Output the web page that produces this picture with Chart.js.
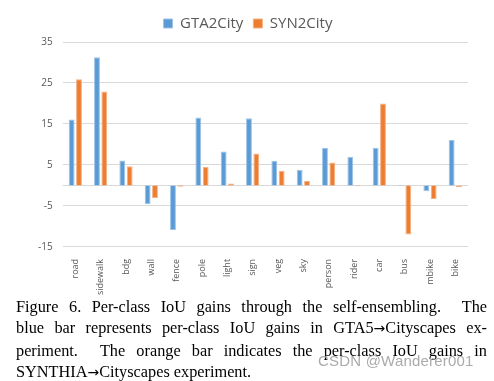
<!DOCTYPE html>
<html>
<head>
<meta charset="utf-8">
<script src="https://cdn.jsdelivr.net/npm/chart.js@4"></script>
<style>
  html, body { margin: 0; padding: 0; background: #fff; }
  #page { position: relative; width: 494px; height: 381px; overflow: hidden; }
  #chartBox { position: absolute; left: 0; top: 0; width: 494px; height: 299px; }
  #caption { position: absolute; left: 16px; top: 296px; width: 471px;
             font-family: "Liberation Serif", "DejaVu Serif", serif; font-size: 16.3px;
             line-height: 21.3px; color: #000; }
  #caption div { text-align: justify; text-align-last: justify; white-space: nowrap; }
  #caption div.last { text-align-last: left; }
  #caption .arr { font-family: "DejaVu Sans", sans-serif; font-size: 14px; }
  #mark { position: absolute; left: 318px; top: 352px; font-family: "Liberation Sans", Arial, sans-serif;
          font-size: 15px; color: #ababab; letter-spacing: 0.2px; }
</style>
</head>
<body>
<div id="page">
  <div id="chartBox"><canvas id="chart"></canvas></div>
  <div id="caption">
    <div>Figure 6. Per-class IoU gains through the self-ensembling.&nbsp; The</div>
    <div>blue bar represents per-class IoU gains in GTA5<span class="arr">→</span>Cityscapes ex-</div>
    <div>periment.&nbsp; The orange bar indicates the per-class IoU gains in</div>
    <div class="last">SYNTHIA<span class="arr">→</span>Cityscapes experiment.</div>
  </div>
  <div id="mark">CSDN @Wanderer001</div>
</div>
<script>
// clases y ganancias de IoU
const categories = ['road', 'sidewalk', 'bdg', 'wall', 'fence', 'pole', 'light', 'sign',
                    'veg', 'sky', 'person', 'rider', 'car', 'bus', 'mbike', 'bike'];
const gtaValues = [16.1, 31.3, 6.1, -4.6, -10.9, 16.6, 8.3, 16.4, 6.0, 3.8, 9.2, 7.0, 9.2, -0.2, -1.4, 11.1];
const synValues = [25.9, 22.9, 4.7, -3.1, -0.3, 4.5, 0.5, 7.8, 3.6, 1.1, 5.6, -0.2, 20.0, -12.0, -3.3, -0.4];
const yTicks = [-15, -5, 5, 15, 25, 35];

// linea del cero, dibujada con la escala y
const zeroLine = {
    id: 'zeroLine',
    beforeDatasetsDraw(chart) {
        const { ctx, chartArea, scales } = chart;
        const y = Math.round(scales.y.getPixelForValue(0)) + 0.5;
        ctx.save();
        ctx.strokeStyle = '#d9d9d9';
        ctx.lineWidth = 1;
        ctx.beginPath();
        ctx.moveTo(chartArea.left, y);
        ctx.lineTo(chartArea.right, y);
        ctx.stroke();
        ctx.restore();
    }
};

// un poco mas de espacio debajo de la leyenda
const legendGap = {
    id: 'legendGap',
    beforeInit(chart) {
        const fit = chart.legend.fit;
        chart.legend.fit = function () {
            fit.bind(chart.legend)();
            this.height += 1;
        };
    }
};

const ctx = document.getElementById('chart').getContext('2d');
new Chart(ctx, {
    type: 'bar',
    data: {
        labels: categories,
        datasets: [{
            label: 'GTA2City',
            data: gtaValues,
            backgroundColor: '#5B9BD5',
            borderColor: '#9dc3e6',
            borderWidth: 1
        }, {
            label: 'SYN2City',
            data: synValues,
            backgroundColor: '#ED7D31',
            borderColor: '#f4b183',
            borderWidth: 1
        }]
    },
    options: {
        responsive: true,
        maintainAspectRatio: false,
        animation: false,
        datasets: { bar: { categoryPercentage: 0.58, barPercentage: 0.8 } },
        layout: { padding: { top: 6, left: 28, right: 26, bottom: 0 } },
        plugins: {
            legend: {
                position: 'top',
                labels: {
                    boxWidth: 9, boxHeight: 9, padding: 10,
                    color: '#595959',
                    font: { family: 'Open Sans', size: 15 }
                }
            },
            tooltip: { enabled: false }
        },
        scales: {
            x: {
                grid: { display: false },
                border: { display: false },
                ticks: {
                    color: '#595959', maxRotation: 90, minRotation: 90, padding: 4,
                    font: { family: 'Open Sans', size: 9 }
                }
            },
            y: {
                min: -15, max: 35,
                afterBuildTicks(scale) { scale.ticks = yTicks.map(v => ({ value: v })); },
                grid: { color: '#d9d9d9', lineWidth: 1, drawTicks: false },
                border: { display: false },
                ticks: {
                    color: '#595959', padding: 10,
                    font: { family: 'Open Sans', size: 10 }
                }
            }
        }
    },
    plugins: [zeroLine, legendGap]
});
</script>
</body>
</html>
